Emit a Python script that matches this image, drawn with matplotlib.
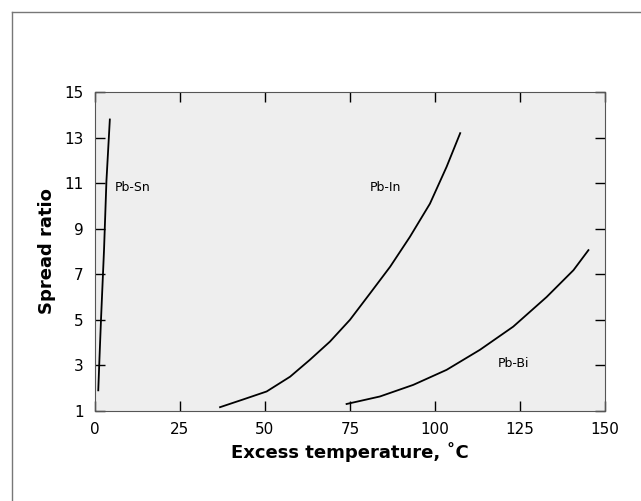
import matplotlib
matplotlib.use("Agg")
import matplotlib.pyplot as plt
from matplotlib.lines import Line2D

# curves
sn_x = [1.0, 1.3, 1.8, 2.7, 3.4, 4.4]
sn_y = [1.9, 3.1, 5.0, 8.1, 11.1, 13.8]

in_x = [36.8, 43.6, 50.5, 57.4, 63.2, 69.1, 75.0, 80.9, 86.8, 92.6, 98.5, 103.4, 107.4]
in_y = [1.16, 1.5, 1.85, 2.5, 3.24, 4.04, 5.0, 6.16, 7.33, 8.64, 10.1, 11.72, 13.2]

bi_x = [74.0, 83.8, 93.6, 103.4, 113.2, 123.0, 132.8, 140.7, 145.1]
bi_y = [1.3, 1.63, 2.14, 2.8, 3.68, 4.7, 6.0, 7.18, 8.06]

x_ticks = [0, 25, 50, 75, 100, 125, 150]
y_ticks = [1, 3, 5, 7, 9, 11, 13, 15]

fig = plt.figure(figsize=(6.41, 5.01), dpi=100)
ax = fig.add_axes([0.148, 0.180, 0.796, 0.636])
ax.set_facecolor("#eeeeee")

ax.plot(sn_x, sn_y, color="black", lw=1.3)
ax.plot(in_x, in_y, color="black", lw=1.3)
ax.plot(bi_x, bi_y, color="black", lw=1.3)

ax.text(5.9, 10.8, "Pb-Sn", fontsize=9, va="center", ha="left")
ax.text(85.5, 10.8, "Pb-In", fontsize=9, va="center", ha="center")
ax.text(123, 3.1, "Pb-Bi", fontsize=9, va="center", ha="center")

ax.set_xlim(0, 150)
ax.set_ylim(1, 15)
ax.set_xticks(x_ticks)
ax.set_yticks(y_ticks)
ax.tick_params(direction="in", length=7, width=1, top=True, right=True,
               labelsize=11, pad=8)
for s in ax.spines.values():
    s.set_color("#555555")
    s.set_linewidth(0.8)

ax.set_xlabel("Excess temperature, ˚C", fontsize=13, fontweight="bold", labelpad=4)
ax.set_ylabel("Spread ratio", fontsize=13, fontweight="bold", labelpad=6)

# frame lines of the original page
fig.add_artist(Line2D([12 / 641, 12 / 641], [0, 1 - 12 / 501],
                      transform=fig.transFigure, color="#777777", lw=1))
fig.add_artist(Line2D([12 / 641, 1], [1 - 12 / 501, 1 - 12 / 501],
                      transform=fig.transFigure, color="#777777", lw=1))

fig.savefig("out.png", dpi=100)
